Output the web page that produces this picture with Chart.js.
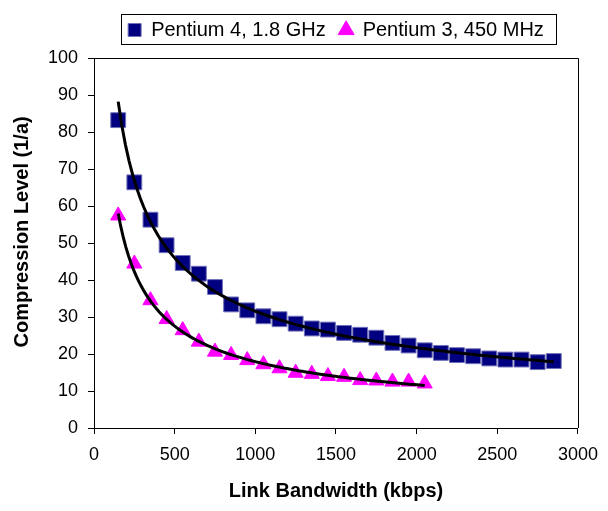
<!DOCTYPE html>
<html>
<head>
<meta charset="utf-8">
<script src="https://cdn.jsdelivr.net/npm/chart.js@4.4.0/dist/chart.umd.min.js"></script>
<style>
html,body{margin:0;padding:0;background:#fff;}
</style>
</head>
<body>
<canvas id="canvasG1" width="608" height="511"></canvas>
<script>
//데이터
var bwP4 = [150,250,350,450,550,650,750,850,950,1050,1150,1250,1350,1450,
            1550,1650,1750,1850,1950,2050,2150,2250,2350,2450,2550,2650,2750,2850];
var lvP4 = [83.2,66.4,56.3,49.4,44.6,41.7,38.1,33.4,31.8,30.2,29.4,28.2,26.9,26.6,
            25.7,25.2,24.4,23.0,22.3,21.0,20.3,19.7,19.4,18.8,18.5,18.5,17.8,18.1];
var bwP3 = [150,250,350,450,550,650,750,850,950,1050,1150,1250,1350,1450,
            1550,1650,1750,1850,1950,2050];
var lvP3 = [57.4,44.4,34.5,29.4,26.4,23.3,20.6,19.7,18.3,17.2,16.1,14.9,14.6,14.0,
            13.8,12.9,12.8,12.5,12.5,12.0];
var seriesNames = ["Pentium 4, 1.8 GHz", "Pentium 3, 450 MHz"];
var xTitle = "Link Bandwidth (kbps)";
var yTitle = "Compression Level (1/a)";

//점 목록 만들기
function toPoints(xs, ys){
	var pts = [];
	for(var i=0;i<xs.length;i++){ pts.push({x: xs[i], y: ys[i]}); }
	return pts;
}

//거듭제곱 추세선 (엑셀 power trendline 처럼 log-log 최소제곱)
function powerTrend(xs, ys){
	var n = xs.length, sx = 0, sy = 0, sxx = 0, sxy = 0;
	for(var i=0;i<n;i++){
		var lx = Math.log(xs[i]), ly = Math.log(ys[i]);
		sx += lx; sy += ly; sxx += lx*lx; sxy += lx*ly;
	}
	var b = (n*sxy - sx*sy) / (n*sxx - sx*sx);
	var a = Math.exp((sy - b*sx) / n);
	var pts = [], x0 = xs[0], x1 = xs[n-1];
	for(var k=0;k<=120;k++){
		var x = x0 + (x1 - x0) * k / 120;
		pts.push({x: x, y: a * Math.pow(x, b)});
	}
	return pts;
}

//플롯 테두리 + 범례 박스
var framePlugin = {
	id: 'frame',
	afterDraw: function(chart){
		var ctx = chart.ctx, a = chart.chartArea;
		ctx.save();
		ctx.strokeStyle = '#000';
		ctx.lineWidth = 1;
		ctx.beginPath();
		ctx.moveTo(a.left, Math.round(a.top) + 0.5);
		ctx.lineTo(Math.round(a.right) + 0.5, Math.round(a.top) + 0.5);
		ctx.lineTo(Math.round(a.right) + 0.5, a.bottom);
		ctx.stroke();
		var hb = chart.legend.legendHitBoxes;
		if(hb && hb.length){
			var l = 9999, r = 0, t = 9999, btm = 0;
			for(var i=0;i<hb.length;i++){
				l = Math.min(l, hb[i].left); r = Math.max(r, hb[i].left + hb[i].width);
				t = Math.min(t, hb[i].top); btm = Math.max(btm, hb[i].top + hb[i].height);
			}
			ctx.strokeRect(Math.round(l - 7) + 0.5, Math.round(t - 6) + 0.5,
				Math.round(r - l + 19), Math.round(btm - t + 10));
		}
		ctx.restore();
	}
};

Chart.defaults.font.family = 'Arial, "Liberation Sans", sans-serif';
Chart.defaults.color = '#000';

var ctx = document.getElementById('canvasG1').getContext('2d');
window.myChartG1 = new Chart(ctx, {
	type: 'scatter',
	data: {
		datasets: [
			{
				label: seriesNames[0],
				data: toPoints(bwP4, lvP4),
				pointStyle: 'rect',
				pointRadius: 10.5,
				pointHoverRadius: 10.5,
				backgroundColor: '#000080',
				borderColor: '#7070b8',
				borderWidth: 1,
				order: 1
			},
			{
				label: seriesNames[1],
				data: toPoints(bwP3, lvP3),
				pointStyle: 'triangle',
				pointRadius: 8.7,
				pointHoverRadius: 8.7,
				backgroundColor: '#ff00ff',
				borderColor: '#ff00ff',
				borderWidth: 1,
				order: 1
			},
			{
				label: 'trendP4',
				data: powerTrend(bwP4, lvP4),
				showLine: true,
				borderColor: '#000',
				borderWidth: 3,
				pointRadius: 0,
				order: 0
			},
			{
				label: 'trendP3',
				data: powerTrend(bwP3, lvP3),
				showLine: true,
				borderColor: '#000',
				borderWidth: 3,
				pointRadius: 0,
				order: 0
			}
		]
	},
	options: {
		responsive: false,
		animation: false,
		devicePixelRatio: 1,
		layout: { padding: { top: 6, right: 26, left: 0, bottom: 0 } },
		plugins: {
			legend: {
				position: 'top',
				fullSize: false,
				labels: {
					usePointStyle: true,
					boxWidth: 13,
					boxHeight: 13,
					padding: 14,
					color: '#000',
					font: { size: 20 },
					filter: function(item){ return item.datasetIndex < 2; }
				}
			},
			subtitle: {
				display: true,
				text: '',
				weight: 500,
				padding: 0,
				font: { size: 8, lineHeight: 1 }
			},
			tooltip: { enabled: false }
		},
		scales: {
			x: {
				type: 'linear',
				min: 0, max: 3000,
				ticks: {
					stepSize: 500, font: { size: 18 }, color: '#000', padding: 10, maxRotation: 0,
					callback: function(v){ return String(v); }
				},
				grid: { drawOnChartArea: false, drawTicks: true, tickLength: 6, color: '#000' },
				border: { display: true, color: '#000', width: 1 },
				title: { display: true, text: xTitle, font: { size: 20, weight: 'bold' }, color: '#000', padding: { top: 4, bottom: 8 } },
				afterFit: function(s){ s.height = 83; }
			},
			y: {
				min: 0, max: 100,
				ticks: { stepSize: 10, font: { size: 18 }, color: '#000', padding: 10 },
				grid: { drawOnChartArea: false, drawTicks: true, tickLength: 6, color: '#000' },
				border: { display: true, color: '#000', width: 1 },
				title: { display: true, text: '    ' + yTitle, font: { size: 20, weight: 'bold' }, color: '#000', padding: { top: 10, bottom: 4 } },
				afterFit: function(s){ s.width = 94; }
			}
		}
	},
	plugins: [framePlugin]
});
</script>
</body>
</html>
